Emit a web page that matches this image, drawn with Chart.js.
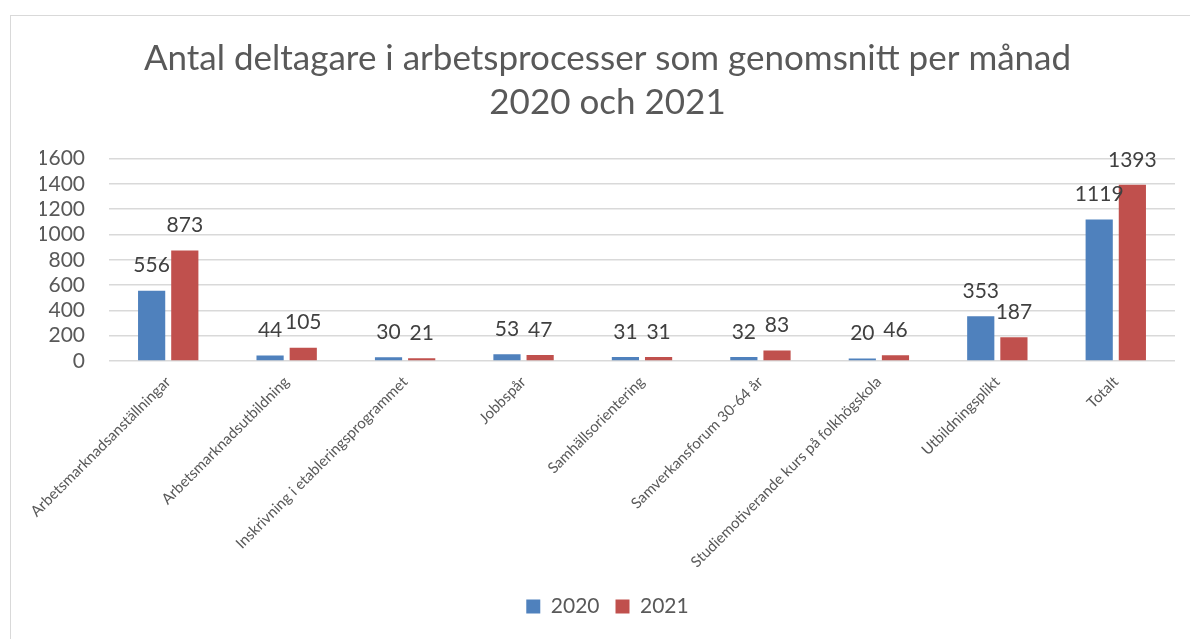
<!DOCTYPE html>
<html>
<head>
<meta charset="utf-8">
<script src="https://cdn.jsdelivr.net/npm/chart.js@4/dist/chart.umd.min.js"></script>
<style>
  html, body { margin: 0; padding: 0; background: #fff; }
  #wrap { position: relative; width: 1190px; height: 639px; overflow: hidden; }
  #frame { position: absolute; left: 10px; top: 15px; width: 1300px; height: 700px; border: 1px solid #d9d9d9; box-sizing: border-box; }
  canvas { position: absolute; left: 0; top: 0; }
</style>
</head>
<body>
<div id="wrap">
  <div id="frame"></div>
  <canvas id="barChart" width="1190" height="639"></canvas>
</div>
<script>
// kategorier och värden
const categories = [
  'Arbetsmarknadsanställningar',
  'Arbetsmarknadsutbildning',
  'Inskrivning i etableringsprogrammet',
  'Jobbspår',
  'Samhällsorientering',
  'Samverkansforum 30-64 år',
  'Studiemotiverande kurs på folkhögskola',
  'Utbildningsplikt',
  'Totalt'
];
const values2020 = [556, 44, 30, 53, 31, 32, 20, 353, 1119];
const values2021 = [873, 105, 21, 47, 31, 83, 46, 187, 1393];
const seriesLabels = ['2020', '2021'];

const fontFamily = 'Lato, "Open Sans", sans-serif';

// egen plugin för värdeetiketter ovanför staplarna
const valueLabels = {
  id: 'valueLabels',
  afterDatasetsDraw(chart) {
    const c = chart.ctx;
    c.save();
    c.font = '21px ' + fontFamily;
    c.fillStyle = '#404040';
    c.textAlign = 'center';
    c.textBaseline = 'middle';
    chart.data.datasets.forEach((ds, i) => {
      chart.getDatasetMeta(i).data.forEach((bar, j) => {
        c.fillText(String(ds.data[j]), bar.x, bar.y - 25);
      });
    });
    c.restore();
  }
};

const ctx = document.getElementById('barChart').getContext('2d');
new Chart(ctx, {
  type: 'bar',
  data: {
    labels: categories,
    datasets: [
      { label: seriesLabels[0], data: values2020, backgroundColor: '#4F81BD' },
      { label: seriesLabels[1], data: values2021, backgroundColor: '#C0504D' }
    ]
  },
  options: {
    responsive: false,
    animation: false,
    devicePixelRatio: 1,
    layout: { padding: { left: 40, right: 15, top: 15, bottom: 12 } },
    datasets: { bar: { categoryPercentage: 0.56, barPercentage: 0.82 } },
    plugins: {
      title: {
        display: true,
        text: ['Antal deltagare i arbetsprocesser som genomsnitt per månad', '2020 och 2021'],
        color: '#595959',
        font: { family: fontFamily, size: 35, weight: 'normal', lineHeight: 1.28 },
        padding: { top: 21, bottom: 33 }
      },
      legend: {
        position: 'bottom',
        labels: {
          color: '#595959',
          font: { family: fontFamily, size: 21 },
          boxWidth: 14,
          boxHeight: 14,
          padding: 16
        }
      },
      tooltip: { enabled: false }
    },
    scales: {
      x: {
        grid: { display: false },
        border: { display: false },
        ticks: {
          color: '#595959',
          font: { family: fontFamily, size: 15 },
          minRotation: 45,
          maxRotation: 45,
          padding: 4
        },
        afterFit(scale) { scale.height = 219; }
      },
      y: {
        min: 0,
        max: 1600,
        ticks: {
          stepSize: 200,
          autoSkip: false,
          color: '#595959',
          font: { family: fontFamily, size: 21, lineHeight: 1 },
          padding: 24,
          callback: (v) => String(v)
        },
        grid: { color: '#d9d9d9', lineWidth: 1.5, drawTicks: false },
        border: { display: false },
        afterFit(scale) { scale.width = 69; }
      }
    }
  },
  plugins: [valueLabels]
});
</script>
</body>
</html>
